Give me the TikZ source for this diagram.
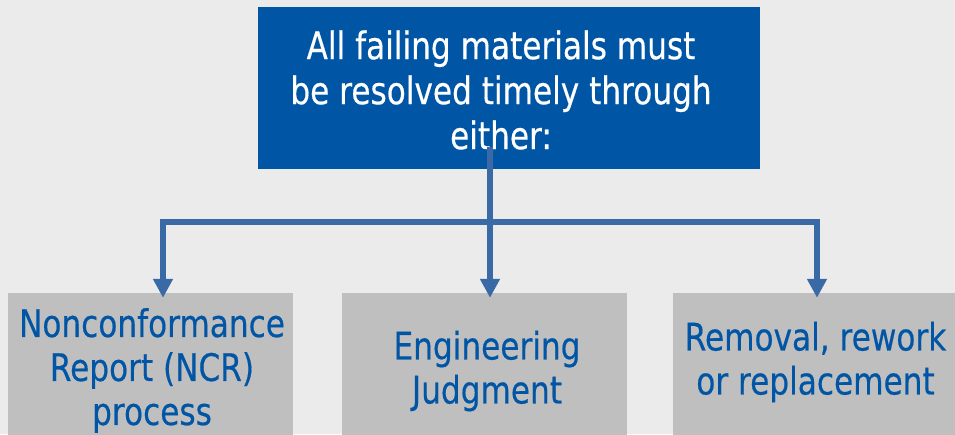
\documentclass[tikz,border=0pt]{standalone}
\usepackage{fontspec}
\setmainfont{DejaVu Sans}[FakeStretch=0.82,FakeBold=0.4]
\usetikzlibrary{arrows.meta,calc}
\definecolor{bgc}{HTML}{EBEBEB}
\definecolor{topblue}{HTML}{0055A5}
\definecolor{connc}{HTML}{3A6AA6}
\definecolor{boxgray}{HTML}{BFBFBF}
\begin{document}
\begin{tikzpicture}[x=1pt,y=-1pt,
  topbox/.style={fill=topblue,minimum width=502pt,minimum height=162pt,inner sep=0pt},
  toptext/.style={text=white,inner sep=0pt,align=center,font=\fontsize{38}{45}\selectfont},
  subbox/.style={fill=boxgray,minimum width=285pt,minimum height=150pt,inner sep=0pt},
  subtext/.style={text=topblue,inner sep=0pt,align=center,font=\fontsize{38}{44}\selectfont},
  conn/.style={draw=connc,line width=6pt,line join=miter},
  arr/.style={conn,-{Triangle[width=19pt,length=19pt]},shorten >=-5pt}]
\clip (0,0) rectangle (955,434);
\fill[bgc] (0,0) rectangle (955,434);
\node[topbox] (top) at (509,88) {};
\node[toptext] (toptx) at (501,90) {All failing materials must\\be resolved timely through\\either:};
\node[subbox] (b1) at (150.5,368) {};
\node[subbox] (b2) at (484.5,368) {};
\node[subbox] (b3) at (815.5,368) {};
\node[subtext] (t1) at (152,370.5) {Nonconformance\\Report (NCR)\\process};
\node[subtext] (t2) at (487,371) {Engineering\\Judgment};
\node[subtext] (t3) at (815.5,362) {Removal, rework\\or replacement};
\coordinate (stem) at (490,147);
\coordinate (j) at (490,222);
\coordinate (lc) at (163,222);
\coordinate (rc) at (817,222);
\draw[conn] (stem) -- (j);
\draw[arr] (j) -- (lc) -- (lc |- b1.north);
\draw[arr] (j) -- (j |- b2.north);
\draw[arr] (j) -- (rc) -- (rc |- b3.north);
\end{tikzpicture}
\end{document}
